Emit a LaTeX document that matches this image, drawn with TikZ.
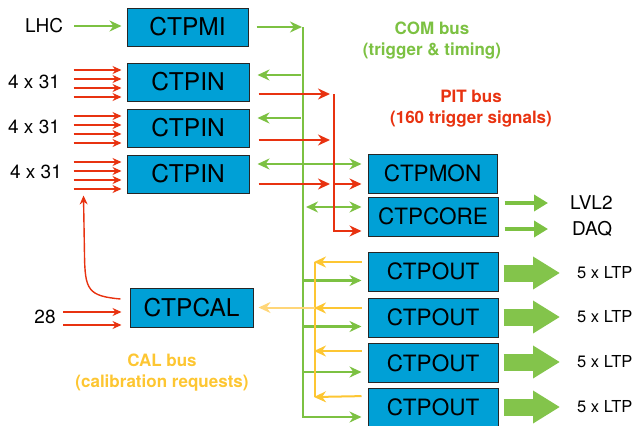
\documentclass[tikz,border=0pt]{standalone}
\usepackage{fontspec}
\setmainfont{TeX Gyre Heros}
\usetikzlibrary{calc,arrows.meta}

\definecolor{comgreen}{RGB}{124,193,66}
\definecolor{pitred}{RGB}{232,50,16}
\definecolor{calyellow}{RGB}{253,198,50}
\definecolor{callight}{RGB}{255,214,120}
\definecolor{boxblue}{RGB}{0,160,214}

\tikzset{
  ctpbox/.style={draw=black!85,line width=1pt,fill=boxblue,minimum height=39pt,inner sep=0pt,font=\fontsize{22.5}{26}\selectfont},
  bigtxt/.style={font=\fontsize{24.5}{28}\selectfont},
  lbl/.style={inner sep=0pt,font=\fontsize{19}{22}\selectfont},
  ltplbl/.style={inner sep=0pt,anchor=west,font=\fontsize{16.5}{20}\selectfont},
  buslbl/.style={inner sep=0pt,align=center,font=\fontsize{17}{21}\selectfont\bfseries},
  combus/.style={comgreen,line width=2.2pt},
  pitbus/.style={pitred,line width=2pt},
  pitin/.style={pitred,line width=1.4pt,-{Stealth[length=9pt,width=8pt]}},
  calbus/.style={calyellow,line width=2pt},
  readout/.style={comgreen,line width=4pt,-{Triangle[length=14pt,width=16pt]}},
  fatarrow/.style={comgreen!95!white,line width=17pt,-{Triangle[length=27pt,width=31pt]}}
}

\begin{document}
\begin{tikzpicture}[x=1pt,y=-1pt,>={Stealth[length=12pt,width=11pt]}]
  \useasboundingbox (0,0) rectangle (638,426);
  % boxes
  \node[ctpbox,bigtxt,minimum width=121pt,minimum height=38pt] (mi) at (187.5,27) {CTPMI};
  \node[ctpbox,bigtxt,minimum width=122pt,minimum height=38pt] (in1) at (188,82) {CTPIN};
  \node[ctpbox,bigtxt,minimum width=122pt,minimum height=38pt] (in2) at (188,128) {CTPIN};
  \node[ctpbox,bigtxt,minimum width=122pt,minimum height=38pt] (in3) at (188,174) {CTPIN};
  \node[ctpbox,bigtxt,minimum width=123pt] (cal) at (191.5,307.5) {CTPCAL};
  \node[ctpbox,minimum width=129pt] (mon) at (432.5,173.5) {CTPMON};
  \node[ctpbox,minimum width=130pt] (core) at (433,216.5) {CTPCORE};
  \node[ctpbox,minimum width=130pt] (out1) at (433,271.5) {CTPOUT};
  \node[ctpbox,minimum width=130pt] (out2) at (433,317.5) {CTPOUT};
  \node[ctpbox,minimum width=130pt] (out3) at (433,363) {CTPOUT};
  \node[ctpbox,minimum width=130pt,minimum height=38pt] (out4) at (433,407) {CTPOUT};
  % outside labels
  \node[lbl] (lhc) at (44,26) {LHC};
  \node[lbl] (n1) at (34,82) {4 x 31};
  \node[lbl] (n2) at (34,127) {4 x 31};
  \node[lbl] (n3) at (36,172) {4 x 31};
  \node[lbl] (n28) at (45,317) {28};
  \node[lbl,anchor=west] (lvl2) at (570,203) {LVL2};
  \node[lbl,anchor=west] (daq) at (572,229) {DAQ};
  \node[ltplbl] (ltp1) at (577,273) {5 x LTP};
  \node[ltplbl] (ltp2) at (577,317) {5 x LTP};
  \node[ltplbl] (ltp3) at (577,362) {5 x LTP};
  \node[ltplbl] (ltp4) at (577,407) {5 x LTP};
  % bus names
  \node[buslbl,text=comgreen] (comname) at (432,41) {COM bus\\(trigger \& timing)};
  \node[buslbl,text=pitred] (pitname) at (471,108.5) {PIT bus\\(160 trigger signals)};
  \node[buslbl,text=calyellow] (calname) at (162,372.5) {CAL bus\\(calibration requests)};

  % COM bus
  \coordinate (comtop) at (303,27); \coordinate (combot) at (303,417);
  \draw[combus,->,shorten <=11pt,shorten >=5pt] (lhc.east) -- (lhc.east -| mi.west);
  \draw[combus,->,shorten <=8pt,shorten >=1pt] (mi.east) -- (comtop);
  \draw[combus,->,shorten >=6pt] (comtop) -- (combot) -- (combot -| out4.west);
  \draw[combus,->,shorten <=2pt,shorten >=8pt] ($(comtop|-in1.east)+(0,-7)$) -- ($(in1.east)+(0,-7)$);
  \draw[combus,->,shorten <=2pt,shorten >=8pt] ($(comtop|-in2.east)+(0,-10)$) -- ($(in2.east)+(0,-10)$);
  \draw[combus,<->,shorten <=8pt,shorten >=6pt] ($(in3.east)+(0,-10)$) -- ($(in3.east-|mon.west)+(0,-10)$);
  \draw[combus,<->,shorten <=3pt,shorten >=6pt] ($(comtop|-core.west)+(0,-9.5)$) -- ($(core.west)+(0,-9.5)$);
  \draw[combus,->,shorten >=6pt] ($(comtop|-out1.west)+(0,9)$) -- ($(out1.west)+(0,9)$);
  \draw[combus,->,shorten >=6pt] ($(comtop|-out2.west)+(0,9)$) -- ($(out2.west)+(0,9)$);
  \draw[combus,->,shorten >=6pt] ($(comtop|-out3.west)+(0,9)$) -- ($(out3.west)+(0,9)$);
  % readout and LTP outputs
  \draw[readout,shorten <=6pt,shorten >=22pt] (core.east|-lvl2.west) -- (lvl2.west);
  \draw[readout,shorten <=6pt,shorten >=24pt] (core.east|-daq.west) -- (daq.west);
  \foreach \i in {1,...,4}
    \draw[fatarrow,shorten <=5pt,shorten >=17pt] (out\i.east|-ltp\i.west) -- (ltp\i.west);

  % PIT bus
  \coordinate (pittop) at (334,94); \coordinate (pitbot) at (334,231);
  \foreach \b in {in1,in2,in3}
    \foreach \dy in {-12,-3,6,15}
      \draw[pitin] ($(\b.west)+(-53,\dy)$) -- ($(\b.west)+(-5,\dy)$);
  \draw[pitbus,->,shorten <=9pt,shorten >=4pt] ($(in1.east)+(0,12)$) -- (pittop);
  \draw[pitbus,->,shorten <=9pt,shorten >=4pt] ($(in2.east)+(0,12)$) -- ($(pittop|-in2.east)+(0,12)$);
  \draw[pitbus,->,shorten <=9pt,shorten >=4pt] ($(in3.east)+(0,10)$) -- ($(pittop|-in3.east)+(0,10)$);
  \draw[pitbus,->,shorten >=6pt] (pittop) -- (pitbot) -- (pitbot-|core.west);
  \draw[pitbus,->,shorten >=6pt] ($(pittop|-mon.west)+(0,10.5)$) -- ($(mon.west)+(0,10.5)$);
  % calibration inputs, request back to CTPIN
  \draw[pitin,shorten <=7.5pt,shorten >=8pt] ($(n28.east)+(0,-5)$) -- ($(n28.east-|cal.west)+(0,-5)$);
  \draw[pitin,shorten <=7.5pt,shorten >=8pt] ($(n28.east)+(0,8)$) -- ($(n28.east-|cal.west)+(0,8)$);
  \draw[pitin] ($(cal.west)+(-9,-8.5)$) .. controls (88,296) and (85,290) .. (84.5,255) -- ($(in3.south west)+(-43,2)$);

  % CAL bus
  \coordinate (caltop) at (315,262); \coordinate (calbot) at (315,397);
  \draw[calbus] (caltop) -- (calbot);
  \draw[calbus,->,shorten <=6pt,shorten >=-1pt] ($(out1.west)+(0,-9.5)$) -- (caltop);
  \draw[calbus,->,shorten <=6pt,shorten >=-1pt] ($(out2.west)+(0,-9.5)$) -- ($(caltop|-out2.west)+(0,-9.5)$);
  \draw[calbus,->,shorten <=6pt,shorten >=-1pt] ($(out3.west)+(0,-12)$) -- ($(caltop|-out3.west)+(0,-12)$);
  \draw[calbus,->,shorten <=6pt,shorten >=-1pt] ($(out4.west)+(0,-11)$) -- (calbot);
  \draw[calbus,callight,->,shorten >=5pt] (caltop|-cal.east) -- (cal.east);
\end{tikzpicture}
\end{document}
